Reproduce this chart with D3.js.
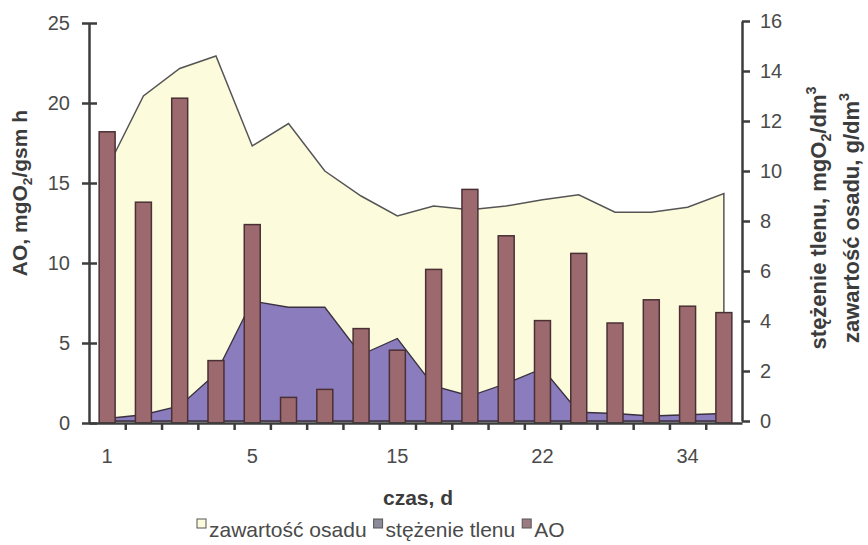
<!DOCTYPE html>
<html>
<head>
<meta charset="utf-8">
<script src="https://cdn.jsdelivr.net/npm/d3@7"></script>
<style>
  body { margin: 0; background: #fff; }
  svg { font-family: Arial, "Liberation Sans", sans-serif; }
</style>
</head>
<body>
<div id="chart"></div>
<script>
// czas, d - only every 4th day is labelled on the axis
const dayLabels = ["1", "", "", "", "5", "", "", "", "15", "", "", "", "22", "", "", "", "34", ""];
// zawartość osadu, g/dm3 (right axis)
const osad = [10.1, 13.0, 14.1, 14.6, 11.0, 11.9, 10.0, 9.0, 8.2, 8.6, 8.45, 8.6, 8.85, 9.05, 8.35, 8.35, 8.55, 9.1];
// stężenie tlenu, mgO2/dm3 (right axis)
const tlen = [0.1, 0.25, 0.6, 1.9, 4.8, 4.55, 4.55, 2.65, 3.3, 1.4, 1.0, 1.5, 2.1, 0.35, 0.3, 0.2, 0.25, 0.3];
// AO, mgO2/gsm h (left axis)
const ao = [18.2, 13.8, 20.3, 3.9, 12.4, 1.6, 2.1, 5.9, 4.55, 9.6, 14.6, 11.7, 6.4, 10.6, 6.25, 7.7, 7.3, 6.9];

const leftTicks = [0, 5, 10, 15, 20, 25];
const rightTicks = [0, 2, 4, 6, 8, 10, 12, 14, 16];

const width = 868, height = 545;
const x0 = 89, x1 = 742;

const svg = d3.select("#chart").append("svg")
  .attr("width", width)
  .attr("height", height);

svg.append("rect").attr("width", width).attr("height", height).attr("fill", "#fff");

const idx = d3.range(dayLabels.length);

const x = d3.scaleBand()
  .domain(idx)
  .range([x0, x1])
  .paddingInner(0.56)
  .paddingOuter(0.28);

// centre of each category (full band, no padding)
const xc = d3.scaleBand().domain(idx).range([x0, x1]);
const cx = (i) => xc(i) + xc.bandwidth() / 2;

const yL = d3.scaleLinear().domain([0, 25]).range([423, 23]);
const yR = d3.scaleLinear().domain([0, 16]).range([421, 21]);

// areas on the right axis
const area = d3.area()
  .x((d, i) => cx(i))
  .y0(yR(0))
  .y1((d) => yR(d));

svg.append("path")
  .datum(osad)
  .attr("d", area)
  .attr("fill", "#fcfcdc")
  .attr("stroke", "#555")
  .attr("stroke-width", 1.5);

svg.append("path")
  .datum(tlen)
  .attr("d", area)
  .attr("fill", "#8a7cbd")
  .attr("stroke", "#3a3040")
  .attr("stroke-width", 1.3);

// AO bars on the left axis
svg.append("g").selectAll("rect")
  .data(ao)
  .enter()
  .append("rect")
  .attr("x", (d, i) => x(i))
  .attr("width", x.bandwidth())
  .attr("y", (d) => yL(d))
  .attr("height", (d) => yL(0) - yL(d))
  .attr("fill", "#9c6a6e")
  .attr("stroke", "#4a3035")
  .attr("stroke-width", 1.5);

const axisColor = "#3c3c3c";
const tickText = "#4a4a4a";

// left axis
const gL = svg.append("g")
  .attr("transform", `translate(${x0},0)`)
  .call(d3.axisLeft(yL).tickValues(leftTicks).tickSizeInner(7).tickSizeOuter(0).tickPadding(12));
gL.selectAll(".tick line").attr("x1", 8);

// right axis
const gR = svg.append("g")
  .attr("transform", `translate(${x1},0)`)
  .call(d3.axisRight(yR).tickValues(rightTicks).tickSizeInner(8).tickSizeOuter(0).tickPadding(10));

// x axis: labels at category centres, ticks between categories
const gX = svg.append("g")
  .attr("transform", `translate(0,${yL(0)})`)
  .call(d3.axisBottom(xc).tickSize(0).tickPadding(26).tickFormat((i) => dayLabels[i]));
gX.select(".domain").remove();

const xb = d3.scaleLinear().domain([0, dayLabels.length]).range([x0, x1]);
const gXt = svg.append("g")
  .attr("transform", `translate(0,${yL(0)})`)
  .call(d3.axisBottom(xb).tickValues(d3.range(1, dayLabels.length)).tickSize(7).tickSizeOuter(0).tickFormat(""));

[gL, gR, gXt].forEach((g) => {
  g.select(".domain").attr("stroke", axisColor).attr("stroke-width", 2.5);
  g.selectAll(".tick line").attr("stroke", axisColor).attr("stroke-width", 2.5);
});
[gL, gR, gX].forEach((g) => {
  g.selectAll(".tick text").attr("fill", tickText).attr("font-size", 20).attr("font-family", "Arial, 'Liberation Sans', sans-serif");
});

// titles
svg.append("text")
  .attr("x", 418).attr("y", 505)
  .attr("text-anchor", "middle")
  .attr("font-size", 21).attr("font-weight", "bold").attr("fill", axisColor)
  .text("czas, d");

function chemTitle(xPos, yPos, size, parts) {
  const t = svg.append("text")
    .attr("transform", `translate(${xPos},${yPos}) rotate(-90)`)
    .attr("text-anchor", "middle")
    .attr("font-size", size).attr("font-weight", "bold").attr("fill", axisColor);
  parts.forEach((p) => {
    const s = t.append("tspan").text(p[0]);
    if (p[1] === "sub") s.attr("font-size", size * 0.65).attr("dy", size * 0.22);
    if (p[1] === "back") s.attr("dy", -size * 0.22);
    if (p[1] === "sup") s.attr("font-size", size * 0.65).attr("dy", -size * 0.45);
  });
}

chemTitle(27, 193, 21, [["AO, mgO"], ["2", "sub"], ["/gsm h", "back"]]);
chemTitle(826, 218, 22, [["stężenie tlenu, mgO"], ["2", "sub"], ["/dm", "back"], ["3", "sup"]]);
chemTitle(859, 218, 22, [["zawartość osadu, g/dm"], ["3", "sup"]]);

// legend
const legendItems = [
  { name: "zawartość osadu", fill: "#fcfcdc", stroke: "#555" },
  { name: "stężenie tlenu", fill: "#8a8a9a", stroke: "#555" },
  { name: "AO", fill: "#9c7a82", stroke: "#555" }
];
const lg = svg.append("g");
let lx = 197;
legendItems.forEach((it) => {
  lg.append("rect")
    .attr("x", lx).attr("y", 519)
    .attr("width", 9).attr("height", 9)
    .attr("fill", it.fill).attr("stroke", it.stroke).attr("stroke-width", 1);
  const t = lg.append("text")
    .attr("x", lx + 12).attr("y", 537)
    .attr("font-size", 21).attr("fill", tickText)
    .text(it.name);
  lx += 12 + t.node().getComputedTextLength() + 7;
});
</script>
</body>
</html>
